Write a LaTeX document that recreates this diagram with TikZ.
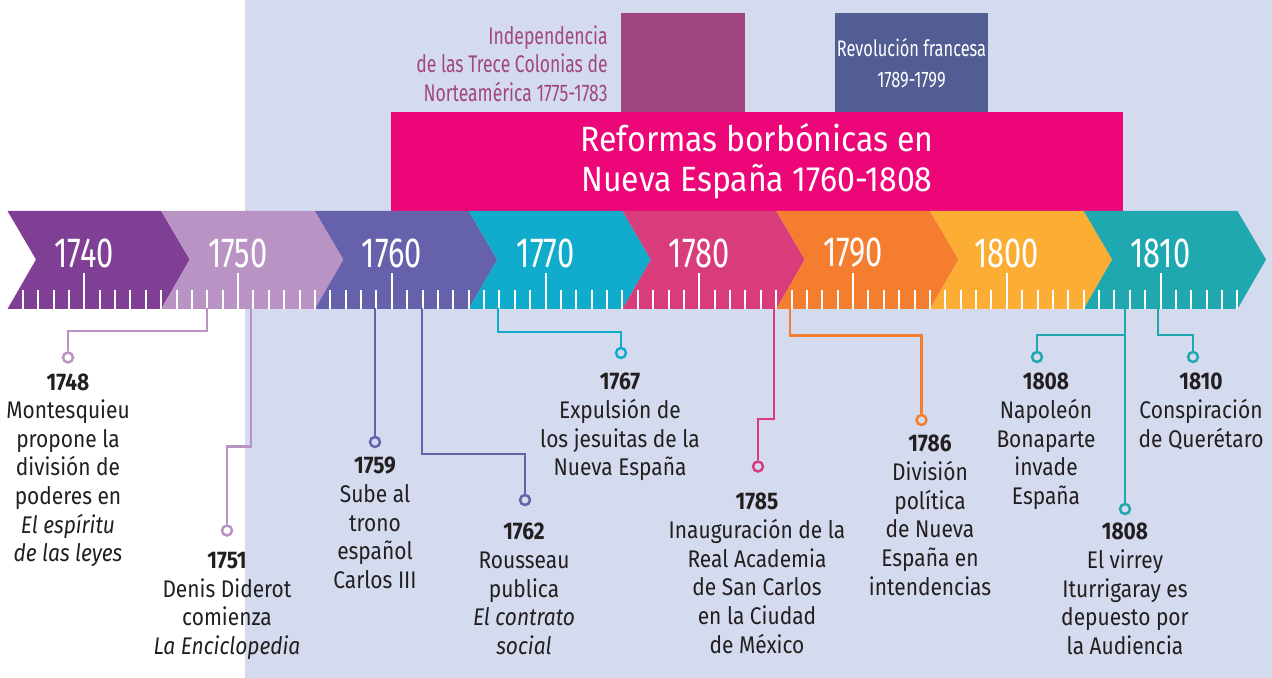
\documentclass[tikz,border=0pt]{standalone}
\usepackage{fontspec}
\setmainfont[FakeStretch=0.87]{Fira Sans}
\newfontfamily\narrowfont[FakeStretch=0.73]{Fira Sans}
\newfontfamily\titlefont[FakeStretch=0.91]{Fira Sans}
\usepackage{tikz}
\definecolor{bgblue}{HTML}{D4DBEE}
\definecolor{textgray}{HTML}{231F20}
\definecolor{reformpink}{HTML}{EC0677}
\definecolor{indepurple}{HTML}{A04681}
\definecolor{revblue}{HTML}{515D93}
\definecolor{c1740}{HTML}{7E3F95}
\definecolor{c1750}{HTML}{B993C4}
\definecolor{c1760}{HTML}{6561AA}
\definecolor{c1770}{HTML}{11ACCB}
\definecolor{c1780}{HTML}{D83C7A}
\definecolor{c1790}{HTML}{F47D2F}
\definecolor{c1800}{HTML}{FBAD34}
\definecolor{c1810}{HTML}{1FA8AF}
\tikzset{
	yearlabel/.style={text=white, inner sep=0, font=\narrowfont\fontsize{24}{28}\selectfont},
	yeartick/.style={white, line width=1.1pt},
	link/.style={line width=1.4pt},
	dot/.style={circle, draw=#1, line width=1.4pt, minimum size=0.2cm, inner sep=0, fill=bgblue},
	event/.style={anchor=north, align=center, inner sep=0, text=textgray, font=\fontsize{13.7}{16.3}\selectfont}
}
\def\chevron(#1)[#2]#3{%
	\fill[#2] (#1,211) -- ++(153.75,0) -- ++(28.5,48.5) -- ++(-28.5,49.5) -- ++(-153.75,0) -- ++(28.5,-49.5) -- cycle;
	\node[yearlabel] (y#3) at ({#1+76.75},253) {#3};}

\begin{document}
\begin{tikzpicture}[x=0.02cm, y=-0.02cm]
		%%%%% START %%%%%
		
		\useasboundingbox (0,0) rectangle (1272,678);
		\fill[white] (0,0) rectangle (1272,678);
		\fill[bgblue] (245,0) rectangle (1272,678);
		
		\fill[indepurple] (621,13) rectangle (745,112);
		\fill[revblue] (835,13) rectangle (988,112);
		\node[anchor=north east, align=right, inner sep=0, text=indepurple, font=\narrowfont\fontsize{13.7}{16.2}\selectfont] (indep) at (608,25) {Independencia\\de las Trece Colonias de\\Norteamérica 1775-1783};
		\node[anchor=north, align=center, inner sep=0, text=white, font=\narrowfont\fontsize{12.8}{18}\selectfont] (revol) at (911.5,38) {Revolución francesa\\1789-1799};
		
		\fill[reformpink] (391,112) rectangle (1123,211);
		\node[anchor=north, align=center, inner sep=0, text=white, font=\titlefont\fontsize{20}{22.7}\selectfont] (reform) at (757,123) {Reformas borbónicas en\\Nueva España 1760-1808};
		
		\chevron(7.5)[c1740]{1740}
		\chevron(161.25)[c1750]{1750}
		\chevron(315)[c1760]{1760}
		\chevron(468.75)[c1770]{1770}
		\chevron(622.5)[c1780]{1780}
		\chevron(776.25)[c1790]{1790}
		\chevron(930)[c1800]{1800}
		\chevron(1083.75)[c1810]{1810}
		
		\foreach \yr in {1736,...,1815}
			\draw[yeartick] ({84.3+15.375*(\yr-1740)},290) -- ++(0,19);
		\foreach \yr in {1740,1750,...,1810}
			\draw[yeartick] ({84.3+15.375*(\yr-1740)},273) -- ++(0,36);
		
		\coordinate (t1748) at (207,308);
		\coordinate (t1751) at (251,308);
		\coordinate (t1759) at (375,308);
		\coordinate (t1762) at (422,308);
		\coordinate (t1767) at (498,308);
		\coordinate (t1785) at (774,308);
		\coordinate (t1786) at (790,308);
		\coordinate (t1808) at (1125,308);
		\coordinate (t1810) at (1158,308);
		
		\node[dot=c1750, fill=white] (d1748) at (68,357.5) {};
		\node[dot=c1750, fill=white] (d1751) at (227,530.5) {};
		\node[dot=c1760] (d1759) at (375,442) {};
		\node[dot=c1760] (d1762) at (525,500) {};
		\node[dot=c1770] (d1767) at (621,353) {};
		\node[dot=c1780] (d1785) at (758,466.5) {};
		\node[dot=c1790] (d1786) at (921.5,420) {};
		\node[dot=c1810] (d1808a) at (1037,357) {};
		\node[dot=c1810] (d1808b) at (1125,509) {};
		\node[dot=c1810] (d1810) at (1193,357) {};
		
		\draw[link, c1750] (t1748) -- ++(0,23) -| (d1748);
		\draw[link, c1750] (t1751) -- ++(0,138.5) -| (d1751);
		\draw[link, c1760] (t1759) -- (d1759);
		\draw[link, c1760] (t1762) -- ++(0,146) -| (d1762);
		\draw[link, c1770] (t1767) -- ++(0,24) -| (d1767);
		\draw[link, c1780] (t1785) -- ++(0,111) -| (d1785);
		\draw[link, c1790] (t1786) -- ++(0,27.5) -| (d1786);
		\draw[link, c1810] (t1808) -- ++(0,27) -| (d1808a);
		\draw[link, c1810] (t1808) -- (d1808b);
		\draw[link, c1810] (t1810) -- ++(0,27) -| (d1810);
		
		\node[event] (e1748) at (68,373) {\textbf{1748}\\Montesquieu\\propone la\\división de\\poderes en\\\textit{El espíritu}\\\textit{de las leyes}};
		\node[event] (e1751) at (227,552) {\textbf{1751}\\Denis Diderot\\comienza\\\textit{La Enciclopedia}};
		\node[event] (e1759) at (375,457) {\textbf{1759}\\Sube al\\trono\\español\\Carlos III};
		\node[event] (e1762) at (524,523) {\textbf{1762}\\Rousseau\\publica\\\textit{El contrato}\\\textit{social}};
		\node[event] (e1767) at (620,373) {\textbf{1767}\\Expulsión de\\los jesuitas de la\\Nueva España};
		\node[event] (e1785) at (757,493) {\textbf{1785}\\Inauguración de la\\Real Academia\\de San Carlos\\en la Ciudad\\de México};
		\node[event] (e1786) at (930,435) {\textbf{1786}\\División\\política\\de Nueva\\España en\\intendencias};
		\node[event] (e1808a) at (1046,373) {\textbf{1808}\\Napoleón\\Bonaparte\\invade\\España};
		\node[event] (e1808b) at (1125,523) {\textbf{1808}\\El virrey\\Iturrigaray es\\depuesto por\\la Audiencia};
		\node[event] (e1810) at (1201,373) {\textbf{1810}\\Conspiración\\de Querétaro};
		
		%%%%% END %%%%%
	\end{tikzpicture}
\end{document}
